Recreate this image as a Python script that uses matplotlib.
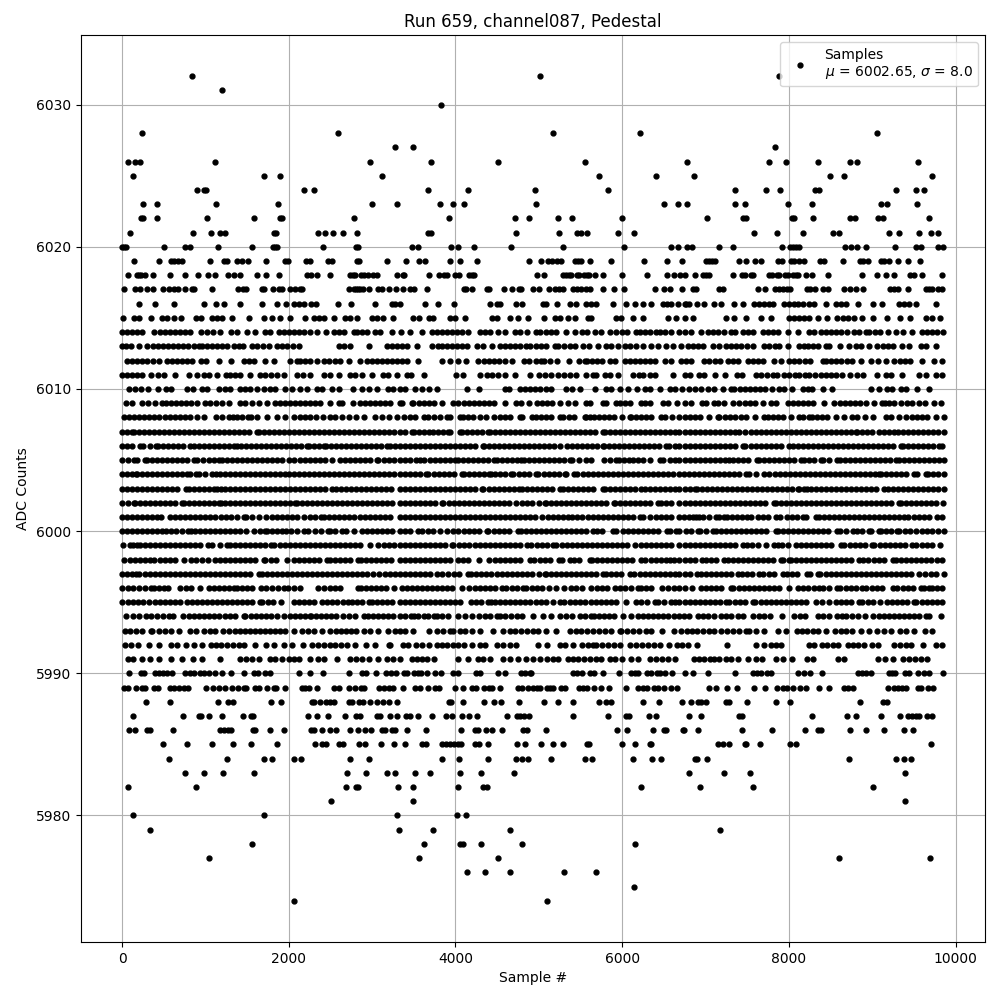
import matplotlib
matplotlib.use('Agg')
import matplotlib.pyplot as plt

# sample numbers, one list per ADC level
s6032 = [840, 5016, 7880]
s6031 = [1196]
s6030 = [3824]
s6028 = [236, 2588, 5171, 6213, 9062]
s6027 = [3272, 3488, 7829]
s6026 = [68, 152, 216, 1112, 2972, 3704, 4508, 5554, 6775, 7757, 7960, 8355, 8738, 8822, 9552]
s6025 = [128, 1700, 1896, 3116, 5722, 6404, 6859, 8499, 8667, 9720]
s6024 = [896, 980, 1004, 2180, 2300, 3668, 4148, 4956, 5830, 7350, 7721, 7888, 8319, 8367, 9289, 9528, 9624]
s6023 = [248, 416, 1124, 1868, 2996, 3296, 3812, 3968, 4100, 4964, 6500, 6668, 6775, 7350, 7470, 7984, 8283, 9109, 9181, 9540]
s6022 = [224, 248, 416, 1016, 1580, 1892, 1916, 2780, 3920, 4712, 4880, 5231, 5399, 5997, 7015, 7446, 7482, 8040, 8056, 8295, 8738, 8798, 9074, 9133, 9684]
s6021 = [92, 848, 1064, 1172, 1232, 1820, 1844, 2348, 2432, 2528, 2648, 2816, 3668, 3704, 4724, 5243, 5459, 5506, 5578, 5949, 6141, 7577, 7853, 8164, 8535, 8607, 9205, 9325, 9564, 9708, 9792]
s6020 = [0, 20, 44, 500, 752, 812, 1148, 1556, 1808, 1832, 1856, 2408, 2804, 2828, 3476, 3548, 3944, 4028, 4220, 4664, 5291, 6021, 6584, 6668, 6775, 6835, 7158, 7326, 7912, 8008, 8044, 8080, 8116, 8678, 8750, 8822, 8930, 9277, 9528, 9588, 9792, 9852]
s6019 = [140, 440, 584, 620, 668, 716, 1052, 1220, 1256, 1376, 1436, 1508, 1724, 1952, 1988, 2204, 2252, 2468, 2516, 2816, 2840, 3176, 3404, 3560, 3632, 3932, 4052, 4256, 4880, 5028, 5111, 5159, 5219, 5267, 5435, 5470, 5506, 5614, 5866, 6260, 6536, 6715, 7003, 7039, 7075, 7110, 7398, 7482, 7589, 7661, 7864, 7912, 8020, 8056, 8116, 8176, 8379, 8427, 8655, 8858, 8894, 8954, 9109, 9145, 9205, 9313, 9433, 9576]
s6018 = [68, 176, 200, 224, 272, 368, 572, 752, 908, 1028, 1112, 1268, 1340, 1412, 1616, 1724, 1880, 2216, 2264, 2336, 2492, 2732, 2768, 2792, 2864, 2900, 2948, 3008, 3056, 3296, 3368, 3380, 3680, 3800, 3860, 3900, 3992, 4040, 4160, 4196, 4220, 4980, 5064, 5291, 5327, 5363, 5387, 5459, 5483, 5542, 5578, 5602, 5674, 5770, 5997, 6296, 6536, 6620, 6692, 6751, 6871, 6967, 7003, 7039, 7326, 7434, 7470, 7542, 7566, 7757, 7793, 7853, 7877, 7948, 7984, 8044, 8080, 8104, 8211, 8283, 8475, 8882, 9062, 9169, 9265, 9457, 9505, 9600, 9840]
s6017 = [20, 152, 212, 296, 368, 488, 560, 620, 668, 752, 836, 860, 1076, 1388, 1448, 1484, 1676, 1700, 1808, 1880, 1916, 2012, 2072, 2132, 2164, 2720, 2780, 2804, 2828, 2852, 2888, 2960, 3068, 3116, 3200, 3284, 3368, 3452, 3500, 3656, 4100, 4124, 4196, 4376, 4400, 4580, 4676, 4760, 4784, 4928, 5004, 5123, 5195, 5243, 5291, 5411, 5459, 5506, 5566, 5614, 5770, 5901, 6021, 6392, 6500, 6572, 6715, 6847, 6883, 7158, 7206, 7625, 7709, 7829, 7877, 7925, 7972, 8008, 8223, 8259, 8319, 8415, 8475, 8667, 8738, 8810, 8894, 9217, 9265, 9313, 9433, 9648, 9684, 9720, 9792, 9840]
s6016 = [204, 395, 622, 982, 1125, 1221, 1412, 1676, 1860, 1971, 2059, 2120, 2180, 2266, 2330, 2586, 2741, 3040, 3236, 3280, 3330, 3639, 3787, 3986, 4417, 4500, 4540, 4732, 4804, 5051, 5091, 5219, 5371, 5442, 5570, 5630, 5690, 5889, 6049, 6148, 6248, 6348, 6488, 6540, 6590, 6668, 6748, 6770, 6805, 6895, 6987, 7107, 7186, 7346, 7446, 7585, 7640, 7700, 7760, 7815, 7945, 8000, 8060, 8110, 8170, 8240, 8304, 8451, 8563, 8623, 8683, 8834, 9014, 9122, 9321, 9385, 9440, 9520, 9760]
s6015 = [12, 144, 204, 343, 483, 540, 622, 702, 882, 942, 1081, 1140, 1200, 1321, 1520, 1700, 1800, 1899, 2019, 2198, 2298, 2358, 2418, 2538, 2677, 2740, 2817, 2996, 3060, 3136, 3256, 3495, 3567, 3687, 3735, 3934, 3990, 4118, 4433, 4493, 4652, 4752, 4872, 5059, 5191, 5251, 5351, 5431, 5590, 5630, 5929, 5989, 6129, 6248, 6548, 6647, 6748, 6847, 7246, 7346, 7486, 7665, 7785, 8004, 8060, 8120, 8180, 8244, 8344, 8463, 8583, 8650, 8710, 8782, 8882, 9014, 9181, 9329, 9449, 9640, 9720, 9808]
s6014 = [4, 60, 120, 180, 244, 383, 450, 510, 570, 630, 690, 760, 820, 942, 1021, 1089, 1173, 1301, 1381, 1500, 1592, 1720, 1780, 1879, 1940, 2000, 2060, 2120, 2180, 2258, 2338, 2450, 2538, 2600, 2660, 2777, 2817, 2880, 2940, 3036, 3096, 3236, 3348, 3455, 3595, 3715, 3775, 3835, 3895, 3955, 4015, 4075, 4146, 4293, 4360, 4420, 4513, 4592, 4712, 4780, 4860, 4964, 5019, 5080, 5140, 5200, 5330, 5438, 5522, 5580, 5670, 5750, 5849, 5929, 6001, 6060, 6168, 6208, 6270, 6330, 6408, 6448, 6510, 6580, 6687, 6748, 6827, 6947, 7027, 7090, 7150, 7226, 7306, 7358, 7446, 7510, 7570, 7685, 7745, 7810, 7870, 7984, 8112, 8244, 8300, 8384, 8443, 8510, 8570, 8630, 8700, 8782, 8842, 8922, 8962, 9030, 9090, 9193, 9281, 9373, 9473, 9600, 9660, 9720, 9776, 9848]
s6013 = [4, 50, 110, 200, 303, 370, 430, 490, 550, 610, 670, 730, 790, 860, 920, 962, 1020, 1080, 1140, 1200, 1260, 1340, 1400, 1452, 1560, 1620, 1690, 1760, 1859, 1920, 1980, 2050, 2119, 2598, 2660, 2737, 2957, 3184, 3236, 3300, 3360, 3415, 3543, 3715, 3787, 3834, 3900, 3960, 4020, 4080, 4140, 4253, 4333, 4433, 4533, 4600, 4660, 4720, 4780, 4852, 4892, 4960, 5020, 5091, 5191, 5231, 5303, 5371, 5430, 5530, 5602, 5710, 5810, 5869, 5950, 6029, 6089, 6168, 6248, 6348, 6428, 6528, 6608, 6708, 6787, 6850, 6910, 6970, 7087, 7166, 7246, 7306, 7370, 7430, 7500, 7565, 7705, 7765, 7830, 7884, 7984, 8124, 8184, 8224, 8290, 8350, 8443, 8483, 8611, 8723, 8802, 8862, 8962, 9062, 9130, 9190, 9250, 9361, 9441, 9580, 9650, 9760]
s6012 = [56, 115, 175, 235, 300, 375, 443, 543, 600, 660, 720, 780, 840, 942, 1001, 1161, 1301, 1460, 1520, 1580, 1720, 1819, 2019, 2099, 2139, 2200, 2260, 2340, 2418, 2478, 2550, 2618, 2717, 2849, 2937, 3000, 3060, 3120, 3180, 3240, 3300, 3360, 3420, 3555, 3834, 3934, 4034, 4126, 4273, 4340, 4400, 4460, 4520, 4590, 4680, 4824, 4884, 4960, 5020, 5059, 5130, 5223, 5363, 5482, 5550, 5578, 5640, 5700, 5760, 5849, 5909, 6029, 6089, 6150, 6210, 6270, 6330, 6390, 6508, 6588, 6708, 6770, 6830, 6987, 7047, 7110, 7170, 7266, 7326, 7390, 7506, 7566, 7630, 7690, 7825, 7905, 8000, 8064, 8124, 8190, 8250, 8404, 8443, 8510, 8570, 8620, 8700, 8762, 8862, 8982, 9070, 9160, 9261, 9330, 9390, 9450, 9600, 9740, 9840]
s6011 = [4, 60, 120, 180, 240, 343, 431, 503, 634, 802, 902, 982, 1040, 1141, 1241, 1300, 1360, 1420, 1532, 1660, 1720, 1790, 1859, 1939, 2099, 2170, 2258, 2418, 2500, 2598, 2737, 2800, 2880, 2996, 3136, 3196, 3304, 3415, 3463, 3627, 4006, 4086, 4293, 4373, 4440, 4513, 4592, 4720, 4892, 5000, 5071, 5151, 5231, 5300, 5371, 5442, 5570, 5650, 5690, 5790, 5857, 5949, 6129, 6200, 6248, 6328, 6392, 6608, 6748, 6810, 6927, 6979, 7119, 7234, 7374, 7438, 7605, 7670, 7740, 7813, 7852, 7945, 8004, 8076, 8124, 8196, 8244, 8316, 8384, 8450, 8510, 8570, 8640, 8730, 8822, 8894, 9062, 9162, 9225, 9361, 9560, 9648, 9760, 9840]
s6010 = [84, 150, 230, 311, 431, 523, 590, 774, 854, 954, 1021, 1157, 1229, 1293, 1420, 1480, 1540, 1620, 1700, 1770, 1839, 1959, 2039, 2131, 2218, 2338, 2400, 2518, 2598, 2765, 2877, 2960, 3056, 3196, 3248, 3336, 3400, 3515, 3603, 3687, 3783, 4142, 4281, 4592, 4644, 4772, 4830, 4890, 4950, 5010, 5080, 5151, 5331, 5400, 5490, 5674, 5810, 5870, 5969, 6069, 6177, 6268, 6330, 6448, 6568, 6628, 6720, 6807, 6870, 6950, 7027, 7107, 7206, 7306, 7346, 7410, 7470, 7530, 7590, 7650, 7710, 7800, 7885, 7945, 8032, 8164, 8224, 8276, 8415, 8523, 8990, 9082, 9181, 9233, 9341, 9401, 9533, 9680]
s6009 = [44, 120, 243, 311, 400, 483, 523, 590, 650, 710, 770, 830, 900, 1000, 1060, 1130, 1200, 1281, 1420, 1480, 1560, 1640, 1740, 1839, 1899, 1960, 2020, 2080, 2140, 2200, 2260, 2320, 2380, 2490, 2598, 2637, 2769, 2857, 2920, 2980, 3040, 3100, 3160, 3220, 3336, 3360, 3475, 3495, 3560, 3620, 3680, 3740, 3840, 3970, 4034, 4100, 4160, 4220, 4280, 4340, 4400, 4460, 4600, 4732, 4792, 4884, 4972, 5040, 5100, 5160, 5250, 5350, 5430, 5570, 5618, 5770, 5810, 5929, 5969, 6030, 6090, 6228, 6268, 6330, 6490, 6548, 6656, 6748, 6827, 6959, 7007, 7107, 7147, 7226, 7334, 7406, 7470, 7530, 7590, 7690, 7785, 7845, 7984, 8044, 8110, 8170, 8230, 8290, 8423, 8543, 8610, 8670, 8730, 8790, 8850, 8920, 9020, 9122, 9154, 9201, 9265, 9340, 9420, 9481, 9560, 9628, 9740, 9820]
s6008 = [24, 85, 145, 205, 265, 325, 385, 445, 510, 570, 630, 700, 760, 820, 900, 981, 1121, 1200, 1281, 1333, 1381, 1440, 1508, 1548, 1620, 1740, 1859, 1950, 2059, 2131, 2200, 2260, 2330, 2410, 2498, 2558, 2637, 2717, 2809, 2905, 3036, 3120, 3208, 3296, 3384, 3450, 3510, 3623, 3675, 3740, 3820, 3894, 3934, 4054, 4086, 4150, 4210, 4290, 4365, 4461, 4530, 4590, 4650, 4772, 4804, 4924, 4964, 5030, 5090, 5151, 5251, 5291, 5360, 5420, 5550, 5570, 5610, 5658, 5720, 5780, 5840, 5900, 6000, 6089, 6109, 6170, 6230, 6290, 6350, 6468, 6508, 6600, 6687, 6750, 6810, 6870, 6930, 7040, 7147, 7166, 7230, 7290, 7350, 7420, 7480, 7590, 7705, 7745, 7810, 7870, 7930, 8030, 8124, 8164, 8244, 8276, 8340, 8400, 8460, 8560, 8662, 8755, 8820, 8910, 9010, 9161, 9230, 9320, 9401, 9473, 9540, 9600, 9660, 9760, 9860]
s6007 = [0, 60, 124, 144, 200, 260, 320, 380, 440, 500, 560, 620, 680, 740, 800, 860, 920, 980, 1040, 1100, 1160, 1220, 1280, 1340, 1400, 1460, 1520, 1620, 1644, 1700, 1760, 1820, 1880, 1940, 2000, 2060, 2120, 2180, 2240, 2300, 2358, 2418, 2480, 2540, 2600, 2660, 2720, 2780, 2840, 2900, 2960, 3020, 3080, 3140, 3200, 3260, 3336, 3400, 3475, 3503, 3560, 3620, 3687, 3727, 3790, 3850, 3914, 3934, 4054, 4074, 4140, 4200, 4260, 4320, 4393, 4413, 4470, 4530, 4590, 4650, 4710, 4770, 4830, 4890, 4950, 5010, 5070, 5130, 5190, 5250, 5310, 5370, 5430, 5490, 5550, 5610, 5670, 5770, 5790, 5850, 5910, 5970, 6030, 6090, 6150, 6210, 6270, 6330, 6390, 6450, 6510, 6570, 6630, 6687, 6750, 6810, 6870, 6930, 6990, 7050, 7110, 7170, 7230, 7290, 7358, 7406, 7478, 7540, 7600, 7660, 7720, 7780, 7840, 7900, 7960, 8020, 8080, 8140, 8200, 8260, 8320, 8380, 8440, 8500, 8560, 8620, 8680, 8740, 8802, 8822, 8880, 8940, 9000, 9082, 9141, 9200, 9261, 9313, 9370, 9430, 9490, 9550, 9610, 9670, 9730, 9790, 9860]
s6006 = [0, 60, 120, 215, 255, 330, 403, 431, 490, 550, 610, 670, 730, 814, 862, 920, 980, 1040, 1100, 1160, 1220, 1280, 1341, 1373, 1430, 1490, 1550, 1610, 1670, 1730, 1790, 1850, 1910, 1970, 2030, 2090, 2150, 2218, 2238, 2300, 2360, 2418, 2450, 2510, 2570, 2630, 2690, 2750, 2810, 2870, 2930, 2990, 3050, 3110, 3176, 3216, 3280, 3336, 3400, 3460, 3520, 3580, 3640, 3700, 3760, 3820, 3880, 3940, 4000, 4060, 4120, 4180, 4240, 4333, 4345, 4400, 4460, 4520, 4580, 4640, 4700, 4760, 4820, 4880, 4940, 5000, 5060, 5120, 5180, 5251, 5339, 5400, 5460, 5520, 5580, 5640, 5700, 5770, 5778, 5840, 5900, 5960, 6020, 6080, 6140, 6200, 6260, 6320, 6380, 6440, 6528, 6560, 6628, 6687, 6748, 6810, 6870, 6930, 6990, 7050, 7110, 7170, 7230, 7290, 7350, 7446, 7478, 7540, 7600, 7660, 7720, 7780, 7840, 7900, 8004, 8052, 8110, 8170, 8230, 8290, 8350, 8410, 8470, 8530, 8590, 8650, 8710, 8770, 8830, 8890, 8950, 9010, 9070, 9130, 9190, 9250, 9341, 9373, 9430, 9490, 9550, 9610, 9670, 9730, 9800, 9840]
s6005 = [0, 70, 144, 176, 271, 303, 360, 420, 480, 540, 600, 660, 720, 780, 862, 902, 970, 1040, 1100, 1161, 1201, 1260, 1320, 1380, 1440, 1500, 1560, 1620, 1680, 1740, 1800, 1860, 1920, 1999, 2067, 2130, 2190, 2250, 2310, 2370, 2430, 2518, 2617, 2680, 2740, 2800, 2860, 2920, 2980, 3056, 3076, 3140, 3200, 3260, 3336, 3400, 3460, 3527, 3575, 3627, 3690, 3750, 3810, 3870, 3930, 3994, 4034, 4094, 4150, 4210, 4270, 4330, 4390, 4461, 4500, 4560, 4620, 4680, 4740, 4792, 4824, 4880, 4940, 5000, 5060, 5120, 5180, 5240, 5300, 5371, 5403, 5480, 5570, 5630, 5782, 5850, 5921, 5961, 6020, 6080, 6130, 6189, 6248, 6328, 6448, 6488, 6568, 6628, 6687, 6750, 6810, 6870, 6930, 6990, 7050, 7110, 7170, 7230, 7286, 7326, 7390, 7450, 7510, 7613, 7637, 7700, 7760, 7820, 7880, 7940, 8000, 8060, 8144, 8176, 8240, 8300, 8384, 8415, 8480, 8583, 8611, 8670, 8730, 8790, 8850, 8910, 8974, 9030, 9090, 9150, 9210, 9281, 9321, 9380, 9440, 9500, 9560, 9620, 9680, 9740, 9800, 9860]
s6004 = [0, 60, 120, 164, 184, 240, 300, 360, 420, 480, 540, 600, 660, 720, 782, 814, 882, 922, 1000, 1081, 1121, 1180, 1240, 1300, 1360, 1420, 1480, 1540, 1600, 1660, 1720, 1780, 1840, 1900, 1959, 1999, 2060, 2120, 2180, 2240, 2300, 2360, 2420, 2480, 2540, 2600, 2660, 2720, 2780, 2840, 2900, 2960, 3020, 3080, 3140, 3200, 3260, 3336, 3400, 3460, 3520, 3580, 3647, 3675, 3740, 3800, 3860, 3920, 3980, 4074, 4102, 4160, 4220, 4280, 4340, 4401, 4421, 4480, 4540, 4600, 4672, 4692, 4760, 4820, 4880, 4964, 4992, 5060, 5120, 5180, 5240, 5311, 5331, 5419, 5462, 5530, 5590, 5650, 5710, 5770, 5830, 5890, 5950, 6010, 6070, 6130, 6190, 6250, 6310, 6370, 6430, 6490, 6550, 6610, 6687, 6740, 6800, 6860, 6920, 6980, 7040, 7100, 7160, 7220, 7280, 7340, 7400, 7486, 7526, 7600, 7697, 7765, 7830, 7890, 7950, 8010, 8070, 8130, 8190, 8250, 8310, 8370, 8430, 8490, 8550, 8610, 8670, 8730, 8790, 8850, 8910, 8970, 9030, 9082, 9102, 9160, 9220, 9280, 9340, 9400, 9501, 9541, 9640, 9672, 9730, 9790, 9860]
s6003 = [0, 60, 120, 180, 240, 300, 360, 420, 480, 540, 600, 660, 762, 802, 860, 920, 980, 1040, 1100, 1141, 1181, 1240, 1300, 1360, 1420, 1480, 1540, 1600, 1660, 1720, 1780, 1840, 1900, 1960, 2020, 2080, 2140, 2200, 2260, 2320, 2380, 2440, 2518, 2570, 2630, 2690, 2750, 2810, 2870, 2930, 2990, 3050, 3110, 3170, 3230, 3336, 3400, 3460, 3520, 3580, 3640, 3700, 3760, 3820, 3880, 3940, 4000, 4060, 4120, 4180, 4240, 4313, 4333, 4400, 4460, 4520, 4580, 4640, 4700, 4764, 4804, 4860, 4920, 4980, 5040, 5100, 5160, 5251, 5291, 5350, 5410, 5470, 5530, 5590, 5650, 5770, 5790, 5850, 5910, 5970, 6030, 6090, 6150, 6228, 6268, 6330, 6390, 6450, 6510, 6570, 6630, 6687, 6750, 6810, 6879, 6895, 6960, 7020, 7080, 7140, 7200, 7260, 7320, 7380, 7440, 7500, 7560, 7620, 7680, 7740, 7800, 7860, 7920, 7980, 8040, 8104, 8124, 8184, 8212, 8270, 8330, 8390, 8450, 8510, 8570, 8630, 8690, 8750, 8810, 8870, 8930, 8990, 9050, 9141, 9193, 9250, 9310, 9370, 9430, 9490, 9550, 9610, 9670, 9730, 9790, 9860]
s6002 = [0, 70, 144, 152, 210, 270, 330, 390, 450, 510, 570, 630, 722, 742, 800, 860, 920, 980, 1040, 1100, 1161, 1181, 1240, 1300, 1360, 1420, 1480, 1540, 1600, 1660, 1720, 1780, 1840, 1900, 1960, 2020, 2079, 2099, 2160, 2220, 2280, 2340, 2400, 2460, 2520, 2580, 2640, 2700, 2760, 2820, 2880, 2940, 3000, 3060, 3120, 3180, 3240, 3336, 3400, 3460, 3520, 3580, 3640, 3700, 3760, 3834, 3854, 3920, 3980, 4040, 4100, 4160, 4220, 4280, 4340, 4400, 4460, 4520, 4580, 4640, 4732, 4800, 4860, 4920, 5000, 5071, 5091, 5150, 5210, 5270, 5330, 5390, 5450, 5510, 5570, 5630, 5690, 5750, 5810, 5897, 5909, 5970, 6030, 6090, 6150, 6210, 6270, 6330, 6428, 6468, 6530, 6590, 6687, 6750, 6810, 6870, 6930, 6990, 7050, 7110, 7170, 7230, 7290, 7350, 7410, 7470, 7530, 7590, 7650, 7710, 7825, 7845, 7910, 7970, 8030, 8090, 8150, 8210, 8270, 8330, 8390, 8450, 8510, 8570, 8630, 8690, 8750, 8810, 8870, 8930, 8990, 9050, 9110, 9170, 9230, 9321, 9341, 9400, 9460, 9520, 9580, 9640, 9700, 9760, 9848]
s6001 = [0, 60, 120, 180, 240, 300, 360, 415, 463, 575, 630, 690, 750, 810, 870, 930, 990, 1050, 1110, 1189, 1241, 1310, 1380, 1460, 1492, 1560, 1640, 1732, 1800, 1860, 1920, 1980, 2040, 2100, 2186, 2250, 2320, 2386, 2418, 2480, 2540, 2600, 2660, 2720, 2780, 2857, 2917, 2980, 3040, 3100, 3160, 3220, 3336, 3400, 3460, 3520, 3580, 3640, 3700, 3760, 3820, 3880, 3940, 4000, 4060, 4120, 4180, 4240, 4300, 4360, 4420, 4480, 4540, 4600, 4660, 4720, 4780, 4840, 4900, 4952, 5043, 5110, 5170, 5230, 5290, 5350, 5403, 5458, 5522, 5590, 5650, 5710, 5770, 5830, 5890, 5950, 6010, 6070, 6130, 6216, 6248, 6328, 6408, 6470, 6530, 6590, 6687, 6736, 6807, 6847, 6887, 6927, 6967, 7039, 7127, 7158, 7226, 7254, 7320, 7380, 7440, 7494, 7546, 7625, 7690, 7750, 7845, 7892, 7972, 8040, 8100, 8164, 8204, 8324, 8356, 8420, 8480, 8540, 8600, 8660, 8720, 8780, 8840, 8900, 8960, 9020, 9080, 9140, 9200, 9260, 9320, 9381, 9433, 9500, 9560, 9620, 9680, 9780, 9840]
s6000 = [0, 60, 120, 180, 240, 300, 360, 420, 475, 531, 583, 650, 720, 790, 822, 880, 940, 1000, 1060, 1120, 1180, 1240, 1300, 1360, 1420, 1492, 1580, 1650, 1720, 1740, 1800, 1860, 1919, 1967, 2030, 2100, 2178, 2226, 2318, 2390, 2466, 2490, 2560, 2637, 2685, 2785, 2877, 2940, 3000, 3060, 3120, 3180, 3240, 3336, 3400, 3460, 3555, 3595, 3675, 3735, 3815, 3894, 3974, 4034, 4100, 4160, 4220, 4280, 4373, 4393, 4460, 4520, 4580, 4640, 4752, 4792, 4850, 4910, 4970, 5030, 5090, 5150, 5210, 5270, 5330, 5390, 5450, 5510, 5570, 5650, 5698, 5760, 5889, 5929, 6009, 6070, 6130, 6190, 6250, 6310, 6370, 6430, 6536, 6568, 6640, 6687, 6760, 6830, 6907, 6935, 7010, 7087, 7127, 7190, 7250, 7310, 7370, 7430, 7490, 7550, 7610, 7670, 7730, 7845, 7865, 7930, 7990, 8050, 8110, 8170, 8230, 8290, 8350, 8410, 8470, 8583, 8611, 8683, 8770, 8822, 8874, 8962, 8990, 9082, 9102, 9170, 9230, 9301, 9321, 9390, 9450, 9521, 9592, 9660, 9720, 9790, 9860]
s5999 = [16, 96, 132, 184, 215, 280, 340, 400, 460, 520, 580, 640, 700, 760, 820, 880, 940, 1029, 1081, 1170, 1261, 1293, 1360, 1420, 1480, 1540, 1600, 1660, 1720, 1788, 1827, 1890, 1950, 2010, 2070, 2130, 2190, 2250, 2310, 2370, 2430, 2490, 2550, 2610, 2670, 2730, 2790, 2850, 2977, 3076, 3140, 3200, 3260, 3336, 3400, 3460, 3520, 3580, 3640, 3700, 3760, 3820, 3880, 3954, 3974, 4040, 4100, 4160, 4233, 4293, 4360, 4420, 4480, 4540, 4600, 4660, 4720, 4780, 4860, 4912, 4980, 5040, 5100, 5171, 5211, 5280, 5340, 5400, 5460, 5520, 5580, 5640, 5700, 5760, 5820, 5880, 5940, 6000, 6060, 6149, 6228, 6290, 6350, 6410, 6468, 6520, 6590, 6687, 6750, 6810, 6870, 6930, 6990, 7050, 7110, 7170, 7230, 7290, 7350, 7446, 7494, 7560, 7625, 7725, 7825, 7865, 7920, 7984, 8084, 8150, 8210, 8270, 8330, 8390, 8450, 8510, 8623, 8663, 8730, 8790, 8850, 8910, 9002, 9022, 9090, 9150, 9210, 9270, 9330, 9390, 9472, 9529, 9600, 9660, 9720, 9808]
s5998 = [24, 90, 150, 210, 270, 330, 383, 455, 520, 580, 640, 742, 822, 882, 960, 1033, 1109, 1170, 1230, 1290, 1350, 1410, 1470, 1530, 1590, 1700, 1720, 1790, 1850, 1979, 2059, 2120, 2180, 2240, 2300, 2360, 2458, 2498, 2550, 2620, 2680, 2740, 2825, 2869, 2930, 2990, 3050, 3110, 3170, 3230, 3336, 3396, 3460, 3520, 3580, 3640, 3700, 3760, 3820, 3880, 3940, 4034, 4086, 4150, 4285, 4401, 4470, 4530, 4590, 4650, 4710, 4770, 4892, 4940, 5010, 5070, 5130, 5243, 5283, 5371, 5418, 5480, 5610, 5642, 5700, 5760, 5820, 5880, 5940, 6000, 6060, 6120, 6228, 6276, 6340, 6400, 6460, 6520, 6576, 6616, 6687, 6748, 6810, 6870, 6959, 7007, 7070, 7130, 7226, 7266, 7330, 7390, 7450, 7510, 7570, 7630, 7690, 7750, 7810, 7905, 7925, 8004, 8024, 8090, 8150, 8210, 8270, 8330, 8390, 8450, 8510, 8570, 8630, 8690, 8750, 8842, 8894, 8954, 9020, 9080, 9140, 9249, 9289, 9350, 9410, 9470, 9530, 9590, 9650, 9710, 9780, 9832]
s5997 = [0, 60, 120, 172, 204, 270, 330, 390, 450, 510, 570, 630, 690, 750, 810, 870, 930, 990, 1050, 1110, 1170, 1230, 1290, 1350, 1410, 1470, 1530, 1644, 1676, 1740, 1800, 1860, 1920, 1980, 2040, 2100, 2160, 2220, 2280, 2340, 2400, 2460, 2520, 2580, 2640, 2700, 2760, 2820, 2880, 2940, 3016, 3088, 3150, 3210, 3270, 3336, 3400, 3460, 3520, 3580, 3640, 3700, 3783, 3834, 3910, 3982, 4046, 4154, 4182, 4250, 4310, 4370, 4430, 4501, 4553, 4620, 4680, 4740, 4800, 4860, 4920, 5000, 5071, 5091, 5150, 5210, 5270, 5330, 5390, 5450, 5510, 5570, 5630, 5690, 5770, 5802, 5870, 5930, 5990, 6089, 6141, 6210, 6270, 6330, 6390, 6450, 6510, 6570, 6630, 6687, 6750, 6810, 6895, 6947, 7007, 7070, 7130, 7190, 7250, 7310, 7386, 7438, 7500, 7560, 7645, 7693, 7760, 7820, 7933, 7972, 8040, 8100, 8212, 8252, 8344, 8376, 8440, 8500, 8560, 8620, 8680, 8740, 8800, 8860, 8920, 8980, 9040, 9100, 9160, 9220, 9280, 9340, 9400, 9460, 9560, 9632, 9700, 9770, 9860]
s5996 = [0, 70, 136, 204, 270, 343, 383, 440, 503, 555, 694, 762, 830, 934, 1041, 1100, 1160, 1220, 1280, 1341, 1381, 1440, 1500, 1560, 1668, 1732, 1800, 1870, 1947, 1987, 2060, 2139, 2346, 2426, 2490, 2550, 2617, 2825, 2865, 2930, 2990, 3050, 3110, 3170, 3264, 3356, 3420, 3480, 3540, 3600, 3660, 3720, 3780, 3840, 3900, 3960, 4074, 4166, 4233, 4300, 4360, 4420, 4480, 4553, 4605, 4684, 4740, 4812, 4852, 4920, 4980, 5040, 5123, 5203, 5299, 5391, 5442, 5522, 5630, 5700, 5760, 5820, 5909, 5969, 6030, 6100, 6189, 6228, 6290, 6348, 6480, 6548, 6620, 6687, 6750, 6839, 6947, 7010, 7070, 7130, 7190, 7306, 7334, 7400, 7460, 7520, 7580, 7640, 7700, 7760, 7820, 7880, 7996, 8104, 8170, 8230, 8296, 8356, 8411, 8480, 8583, 8611, 8680, 8740, 8800, 8882, 8930, 9000, 9060, 9120, 9249, 9301, 9370, 9430, 9490, 9580, 9620, 9680, 9720, 9780, 9832]
s5995 = [4, 70, 130, 190, 250, 320, 391, 455, 520, 580, 640, 700, 774, 842, 894, 960, 1020, 1080, 1140, 1200, 1260, 1320, 1380, 1440, 1500, 1560, 1652, 1680, 1750, 1810, 1907, 2059, 2120, 2180, 2240, 2300, 2398, 2458, 2520, 2580, 2649, 2705, 2757, 2820, 2880, 2957, 3001, 3060, 3120, 3180, 3240, 3336, 3400, 3460, 3520, 3580, 3640, 3700, 3760, 3820, 3880, 3940, 4000, 4060, 4186, 4245, 4310, 4393, 4421, 4480, 4540, 4600, 4660, 4720, 4780, 4840, 4900, 4960, 5020, 5080, 5171, 5251, 5303, 5370, 5430, 5490, 5550, 5620, 5680, 5740, 5800, 5860, 5920, 6049, 6161, 6228, 6300, 6388, 6428, 6500, 6588, 6628, 6687, 6750, 6810, 6870, 6930, 6990, 7050, 7110, 7170, 7246, 7286, 7350, 7410, 7470, 7565, 7597, 7660, 7720, 7780, 7840, 7900, 7960, 8020, 8080, 8140, 8200, 8324, 8395, 8483, 8563, 8630, 8690, 8750, 8842, 8882, 8950, 9010, 9090, 9181, 9240, 9300, 9360, 9420, 9501, 9529, 9600, 9660, 9720, 9780, 9840]
s5994 = [44, 132, 204, 283, 350, 420, 490, 563, 614, 734, 800, 860, 920, 980, 1040, 1100, 1161, 1229, 1300, 1360, 1460, 1480, 1550, 1610, 1670, 1730, 1790, 1859, 1947, 2010, 2070, 2130, 2190, 2258, 2266, 2330, 2390, 2450, 2510, 2570, 2649, 2717, 2790, 2897, 2945, 3010, 3070, 3130, 3190, 3250, 3336, 3400, 3463, 3503, 3555, 3627, 3675, 3743, 3775, 3840, 3914, 4034, 4110, 4193, 4285, 4350, 4420, 4493, 4533, 4600, 4670, 4740, 4804, 4932, 5051, 5151, 5259, 5330, 5400, 5498, 5550, 5630, 5658, 5720, 5780, 5840, 5900, 6009, 6109, 6189, 6250, 6310, 6370, 6430, 6490, 6548, 6616, 6680, 6740, 6807, 6907, 6970, 7030, 7107, 7186, 7250, 7310, 7386, 7446, 7573, 7640, 7700, 7777, 7913, 8064, 8130, 8196, 8344, 8411, 8483, 8583, 8640, 8683, 8755, 8830, 8914, 9010, 9080, 9140, 9200, 9260, 9320, 9380, 9440, 9500, 9560, 9640, 9680, 9820]
s5993 = [32, 100, 170, 240, 343, 363, 443, 511, 590, 682, 814, 882, 982, 1050, 1120, 1213, 1281, 1350, 1410, 1470, 1530, 1590, 1650, 1710, 1770, 1830, 1890, 1950, 2059, 2158, 2230, 2300, 2398, 2498, 2570, 2630, 2690, 2750, 2810, 2897, 2977, 3076, 3196, 3270, 3336, 3396, 3495, 3687, 3775, 3850, 3934, 3974, 4050, 4120, 4200, 4293, 4453, 4573, 4652, 4720, 4790, 4860, 4932, 4992, 5091, 5203, 5371, 5442, 5510, 5580, 5650, 5720, 5790, 5860, 5969, 5989, 6060, 6130, 6200, 6288, 6348, 6480, 6616, 6708, 6775, 6839, 6895, 6967, 7047, 7107, 7186, 7254, 7326, 7400, 7486, 7526, 7605, 7697, 7865, 7964, 8092, 8160, 8220, 8284, 8344, 8443, 8555, 8620, 8690, 8762, 8862, 8960, 9062, 9141, 9221, 9329, 9400, 9501, 9628, 9720]
s5992 = [32, 110, 192, 323, 443, 583, 654, 762, 862, 960, 1069, 1121, 1190, 1260, 1330, 1400, 1460, 1600, 1732, 1819, 1939, 2039, 2170, 2278, 2350, 2420, 2490, 2560, 2630, 2700, 2797, 2929, 3036, 3204, 3216, 3368, 3435, 3527, 3595, 3680, 3775, 3834, 3900, 3970, 4034, 4102, 4193, 4293, 4353, 4493, 4573, 4660, 4732, 4992, 5099, 5251, 5311, 5411, 5522, 5590, 5650, 5690, 5760, 5830, 5900, 5977, 6089, 6168, 6240, 6310, 6380, 6450, 6560, 6656, 6720, 6787, 6895, 7254, 7605, 7705, 7785, 7845, 7905, 8236, 8304, 8395, 8463, 8530, 8595, 8715, 8770, 8830, 8902, 9002, 9074, 9261, 9330, 9401, 9461, 9612, 9760, 9832]
s5991 = [72, 136, 239, 335, 443, 583, 722, 854, 962, 1173, 1420, 1490, 1560, 1640, 1780, 1839, 1919, 1999, 2060, 2119, 2258, 2346, 2418, 2578, 2737, 2810, 2880, 2957, 3068, 3176, 3250, 3336, 3475, 3543, 3600, 3655, 3743, 4034, 4154, 4273, 4333, 4413, 4573, 4660, 4752, 4852, 4932, 5019, 5099, 5170, 5231, 5351, 5411, 5470, 5540, 5610, 5680, 5750, 5849, 5917, 5997, 6109, 6189, 6328, 6408, 6480, 6550, 6628, 6867, 6927, 6987, 7050, 7107, 7166, 7240, 7310, 7386, 7506, 7605, 7677, 7845, 7925, 8032, 8212, 8284, 8595, 8663, 9074, 9153, 9249, 9369, 9440, 9510, 9590, 9660]
s5990 = [80, 224, 260, 392, 440, 488, 536, 596, 752, 812, 860, 932, 980, 1040, 1112, 1196, 1304, 1460, 1580, 1628, 1712, 1772, 2120, 2252, 2408, 2720, 2876, 2924, 3044, 3164, 3224, 3284, 3380, 3416, 3500, 3548, 3584, 3656, 3752, 3824, 3968, 4028, 4244, 4292, 4508, 4592, 4784, 4832, 4892, 4908, 5411, 5459, 5518, 5614, 5662, 5770, 5961, 6105, 6153, 6189, 6296, 6344, 6416, 6452, 6512, 6596, 6751, 6847, 7035, 7350, 7565, 7613, 7661, 7733, 7781, 8104, 8176, 8248, 8403, 8834, 8882, 8930, 8990, 9205, 9241, 9277, 9397, 9445, 9552, 9624, 9684, 9852]
s5989 = [20, 68, 164, 236, 272, 380, 428, 572, 620, 680, 740, 788, 1004, 1088, 1160, 1232, 1316, 1388, 1460, 1484, 1592, 1640, 1736, 1820, 1844, 1952, 2156, 2192, 2240, 2336, 2540, 2600, 2720, 2792, 2864, 2900, 3080, 3140, 3200, 3248, 3368, 3512, 3572, 3668, 3752, 3800, 3992, 4088, 4196, 4244, 4340, 4400, 4436, 4532, 4748, 4796, 4868, 4928, 4976, 5012, 5092, 5132, 5172, 5267, 5315, 5483, 5531, 5578, 5662, 5746, 5842, 6045, 6189, 6249, 6296, 6380, 6428, 6500, 6584, 6656, 7039, 7122, 7254, 7374, 7577, 7717, 7853, 7925, 7972, 8044, 8128, 8200, 8367, 8487, 8667, 8714, 8774, 9193, 9265, 9313, 9361, 9409, 9552, 9588, 9672, 9732]
s5988 = [284, 572, 1148, 1268, 1328, 1784, 1904, 2276, 2300, 2372, 2444, 2492, 2540, 2720, 2756, 2840, 2888, 2972, 3056, 3128, 3200, 3296, 3920, 3944, 4088, 4340, 4460, 4544, 4760, 5064, 5231, 5411, 5722, 5806, 5866, 6249, 6440, 6715, 6823, 6907, 6943, 7003, 7242, 7278, 7493, 7841, 8008, 8858, 9133, 9181]
s5987 = [128, 728, 920, 944, 1040, 1196, 1448, 1544, 1568, 2228, 2336, 2468, 2672, 2804, 2852, 3056, 3092, 3212, 3296, 3404, 3452, 3548, 3716, 3884, 3956, 4076, 4160, 4256, 4616, 4736, 4772, 4820, 4880, 5411, 5830, 6045, 6081, 6320, 6404, 6799, 6943, 7398, 7434, 8283, 8702, 8810, 9109, 9337, 9433, 9481, 9528, 9564, 9660, 9720]
s5986 = [80, 152, 296, 332, 608, 1172, 1220, 1268, 1304, 1568, 1592, 1772, 1940, 2264, 2300, 2396, 2492, 2564, 2732, 2828, 2912, 2984, 3116, 3152, 3236, 3280, 3416, 3644, 4064, 4232, 4268, 4364, 4436, 4556, 4808, 4856, 5087, 5937, 6057, 6368, 6500, 6524, 6727, 6739, 6907, 7434, 7793, 8188, 8355, 8391, 8738, 8930, 9145, 9385, 9492]
s5985 = [488, 776, 1076, 1328, 1544, 1856, 2312, 2396, 2444, 2600, 2648, 2840, 2912, 3104, 3260, 3392, 3596, 3644, 3836, 3884, 3932, 3980, 4028, 4064, 4232, 4280, 4388, 4736, 4832, 5028, 5171, 5291, 5578, 5602, 5997, 6153, 6332, 6344, 7146, 7206, 7278, 7470, 7486, 7649, 8008, 8080, 9708]
s5984 = [560, 1256, 1700, 1796, 2060, 2144, 2732, 2960, 3836, 4040, 4388, 4724, 4800, 4868, 5147, 5554, 5638, 6129, 6356, 6464, 6871, 6895, 7015, 8726, 9289, 9385, 9469]
s5983 = [752, 980, 1208, 1580, 2696, 2924, 3176, 3272, 3512, 3692, 4052, 4304, 4700, 6799, 7218, 7529, 9397]
s5982 = [68, 884, 2684, 2804, 2828, 3308, 3488, 4028, 4328, 4376, 6225, 6931, 7565, 9014]
s5981 = [2504, 3488, 9397]
s5980 = [128, 1700, 3296, 4016, 4124]
s5979 = [332, 3320, 3728, 4652, 7170]
s5978 = [1556, 3620, 4052, 4088, 4304, 4796, 6153]
s5977 = [1040, 3560, 4508, 8607, 9696]
s5976 = [4136, 4352, 4652, 5303, 5686]
s5975 = [6141]
s5974 = [2060, 5100]

levels = [6032, 6031, 6030, 6028, 6027, 6026, 6025, 6024, 6023, 6022, 6021, 6020, 6019, 6018, 6017,
          6016, 6015, 6014, 6013, 6012, 6011, 6010, 6009, 6008, 6007, 6006, 6005, 6004, 6003, 6002,
          6001, 6000, 5999, 5998, 5997, 5996, 5995, 5994, 5993, 5992, 5991, 5990, 5989, 5988, 5987,
          5986, 5985, 5984, 5983, 5982, 5981, 5980, 5979, 5978, 5977, 5976, 5975, 5974]
rows = [s6032, s6031, s6030, s6028, s6027, s6026, s6025, s6024, s6023, s6022, s6021, s6020, s6019, s6018, s6017,
        s6016, s6015, s6014, s6013, s6012, s6011, s6010, s6009, s6008, s6007, s6006, s6005, s6004, s6003, s6002,
        s6001, s6000, s5999, s5998, s5997, s5996, s5995, s5994, s5993, s5992, s5991, s5990, s5989, s5988, s5987,
        s5986, s5985, s5984, s5983, s5982, s5981, s5980, s5979, s5978, s5977, s5976, s5975, s5974]

samples = []
counts = []
for level, row in zip(levels, rows):
    samples += row
    counts += [level] * len(row)

fig, ax = plt.subplots(figsize=(10, 10))
ax.plot(samples, counts, 'k.', markersize=7, label='Samples\n$\\mu$ = 6002.65, $\\sigma$ = 8.0')
ax.set_title('Run 659, channel087, Pedestal')
ax.set_xlabel('Sample #')
ax.set_ylabel('ADC Counts')
ax.grid(True)
ax.legend(loc='upper right')
fig.subplots_adjust(left=0.081, right=0.985, top=0.965, bottom=0.058)
fig.savefig('out.png', dpi=100)
